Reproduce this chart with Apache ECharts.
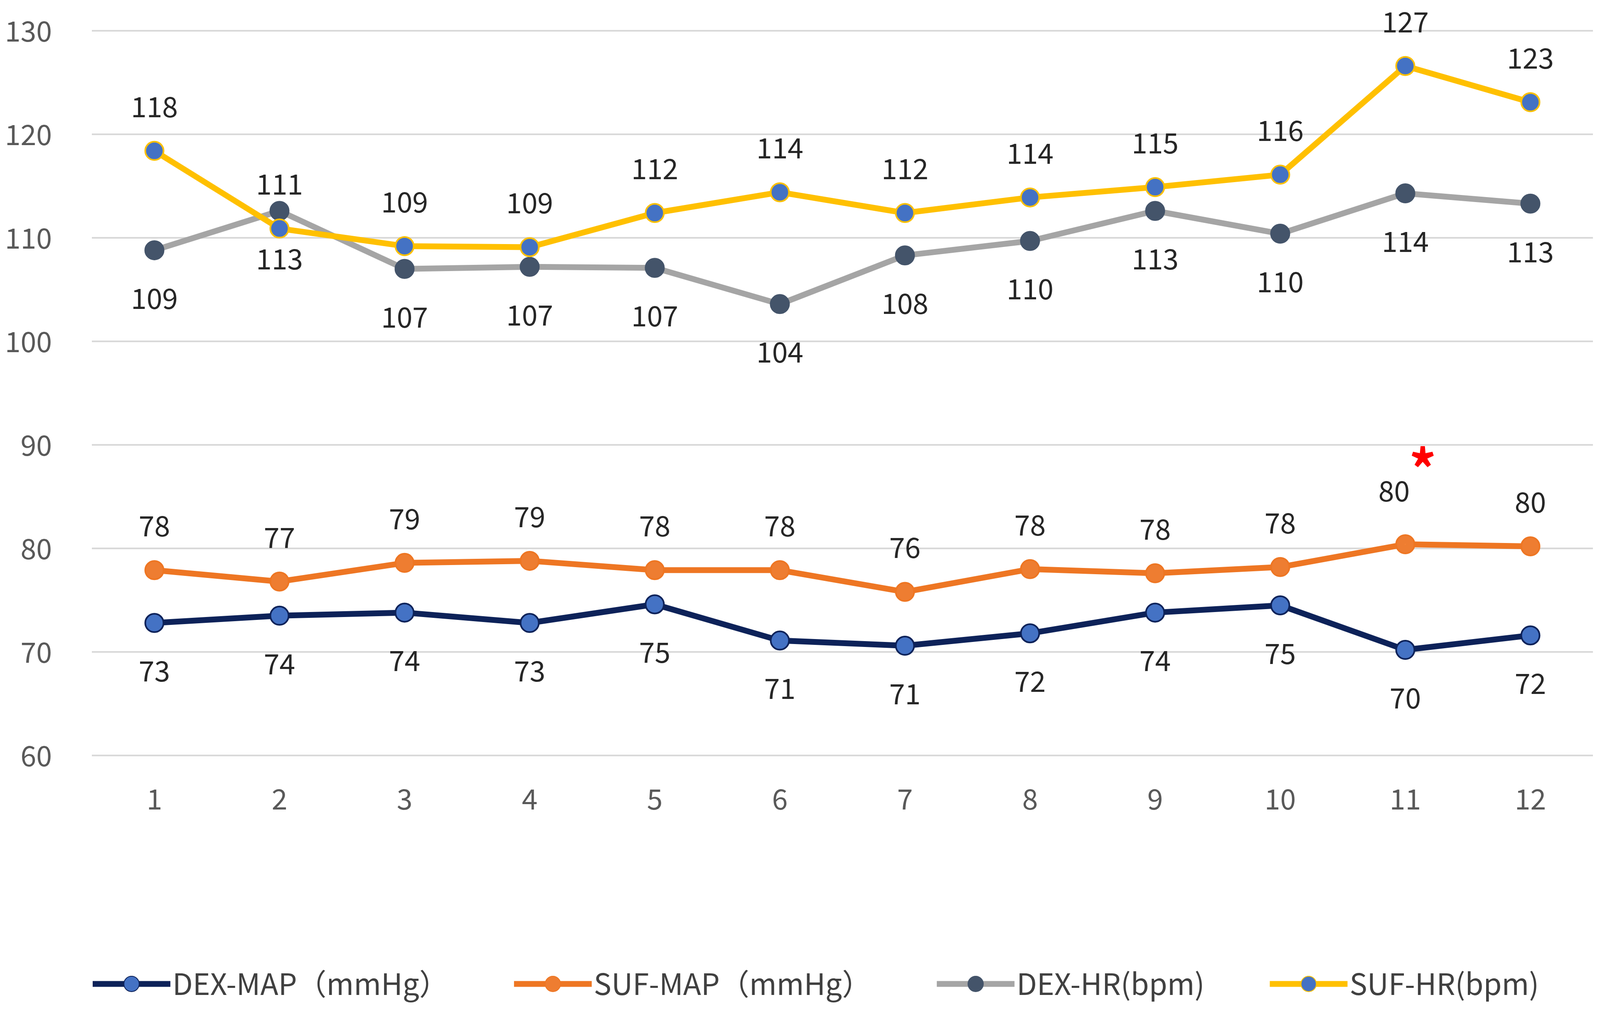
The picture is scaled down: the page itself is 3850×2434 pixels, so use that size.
<!DOCTYPE html>
<html>
<head>
<meta charset="utf-8">
<script src="https://cdn.jsdelivr.net/npm/echarts@6/dist/echarts.min.js"></script>
<style>
  html, body { margin: 0; padding: 0; background: #fff; }
  #main { width: 3850px; height: 2434px; }
</style>
</head>
<body>
<div id="main"></div>
<script>
// 时间点
var timePoints = ['1', '2', '3', '4', '5', '6', '7', '8', '9', '10', '11', '12'];

// 各组数值
var dexMap = [72.8, 73.5, 73.8, 72.8, 74.6, 71.1, 70.6, 71.8, 73.8, 74.5, 70.2, 71.6];
var sufMap = [77.9, 76.8, 78.6, 78.8, 77.9, 77.9, 75.8, 78.0, 77.6, 78.2, 80.4, 80.2];
var dexHr = [108.8, 112.6, 107.0, 107.2, 107.1, 103.6, 108.3, 109.7, 112.6, 110.4, 114.3, 113.3];
var sufHr = [118.4, 110.9, 109.2, 109.1, 112.4, 114.4, 112.4, 113.9, 114.9, 116.1, 126.6, 123.1];

var seriesNames = ['DEX-MAP（mmHg）', 'SUF-MAP（mmHg）', 'DEX-HR(bpm)', 'SUF-HR(bpm)'];

// 显著性标记所在时间点
var starIndex = 10;

var FONT = '"Noto Sans CJK SC", "Noto Sans", sans-serif';

function lineSeries(name, data, lineColor, dotColor, dotBorder, pos) {
  return {
    name: name,
    type: 'line',
    data: data,
    symbol: 'circle',
    symbolSize: 44,
    lineStyle: { color: lineColor, width: 14 },
    itemStyle: { color: dotColor, borderColor: dotBorder, borderWidth: 4 },
    label: {
      show: true,
      position: pos,
      distance: pos === 'top' ? 49 : 57,
      color: '#262626',
      fontFamily: FONT,
      fontSize: 68,
      formatter: function (p) { return Math.round(p.value); }
    }
  };
}

var sufMapSeries = lineSeries(seriesNames[1], sufMap.map(function (v, i) {
  if (i === starIndex) {
    return { value: v, label: { offset: [-27, -22] } };
  }
  return v;
}), '#ee7623', '#ee7d31', '#ee7623', 'top');

sufMapSeries.markPoint = {
  symbol: 'circle',
  symbolSize: 0,
  data: [{ coord: [timePoints[starIndex], sufMap[starIndex]] }],
  label: {
    show: true,
    formatter: '*',
    color: '#ff0000',
    fontSize: 130,
    fontWeight: 'bold',
    fontFamily: FONT,
    offset: [42, -180]
  }
};

var option = {
  backgroundColor: '#fff',
  animation: false,
  grid: {
    left: 221,
    right: 17,
    top: 74,
    bottom: 617
  },
  legend: {
    left: 211,
    top: 2326,
    itemWidth: 187,
    itemHeight: 46,
    itemGap: 150,
    lineStyle: { width: 14 },
    textStyle: {
      color: '#404040',
      fontFamily: FONT,
      fontSize: 71
    },
    data: seriesNames
  },
  xAxis: {
    type: 'category',
    data: timePoints,
    boundaryGap: true,
    axisLine: { show: false },
    axisTick: { show: false },
    axisLabel: {
      color: '#595959',
      fontFamily: FONT,
      fontSize: 68,
      margin: 70
    }
  },
  yAxis: {
    type: 'value',
    min: 60,
    max: 130,
    interval: 10,
    axisLine: { show: false },
    axisTick: { show: false },
    axisLabel: {
      color: '#595959',
      fontFamily: FONT,
      fontSize: 68,
      margin: 96
    },
    splitLine: {
      lineStyle: { color: '#d9d9d9', width: 4 }
    }
  },
  series: [
    lineSeries(seriesNames[0], dexMap, '#0d2259', '#4472c4', '#0d2259', 'bottom'),
    sufMapSeries,
    lineSeries(seriesNames[2], dexHr, '#a5a5a5', '#44546a', '#44546a', 'bottom'),
    lineSeries(seriesNames[3], sufHr, '#ffc000', '#4472c4', '#ffc000', 'top')
  ]
};

var myChart = echarts.init(document.getElementById('main'));
myChart.setOption(option);
</script>
</body>
</html>
